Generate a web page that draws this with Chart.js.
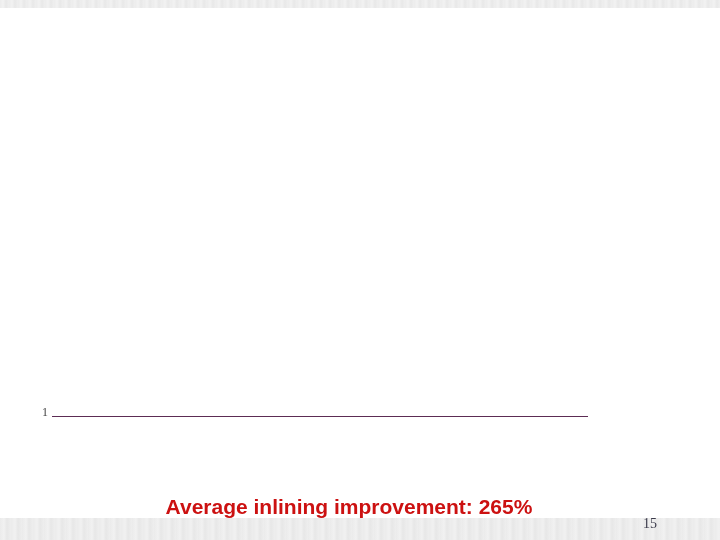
<!DOCTYPE html>
<html>
<head>
<meta charset="utf-8">
<script src="https://cdn.jsdelivr.net/npm/chart.js@4.4.0/dist/chart.umd.min.js"></script>
<style>
  html, body { margin: 0; padding: 0; width: 720px; height: 540px; overflow: hidden; background: #ffffff; }
  #topband { position: absolute; left: 0; top: 0; width: 720px; height: 8px;
    background: repeating-linear-gradient(90deg, #ececec 0px, #f2f2f2 3px, #e8e8e8 6px, #efefef 9px); }
  #botband { position: absolute; left: 0; top: 518px; width: 720px; height: 22px;
    background: repeating-linear-gradient(90deg, #ebebeb 0px, #f1f1f1 4px, #e7e7e7 7px, #eeeeee 11px); }
  #wrap { position: absolute; left: 0; top: 0; width: 720px; height: 540px; }
  #caption { position: absolute; left: 0; width: 698px; top: 495px; text-align: center;
    font-family: "Liberation Sans", Arial, sans-serif; font-weight: bold; font-size: 21px; color: #cc1111; }
  #pageno { position: absolute; left: 643px; top: 516px; font-family: "Liberation Serif", serif;
    font-size: 14px; color: #3a3a4a; }
</style>
</head>
<body>
<div id="topband"></div>
<div id="botband"></div>
<div id="wrap"><canvas id="c" width="720" height="540"></canvas></div>
<div id="caption">Average inlining improvement: 265%</div>
<div id="pageno">15</div>
<script>
// Data (no bars are visible in the reference; only the baseline at 1 remains)
const categories = [''];
const improvement = [null];
const yTicks = [1];

const ctx = document.getElementById('c').getContext('2d');
new Chart(ctx, {
  type: 'bar',
  data: {
    labels: categories,
    datasets: [{ data: improvement, backgroundColor: '#5a2a4a' }]
  },
  options: {
    responsive: false,
    animation: false,
    layout: { padding: { left: 0, right: 133, top: 40, bottom: 0 } },
    plugins: { legend: { display: false }, tooltip: { enabled: false } },
    scales: {
      x: {
        grid: { display: false, drawTicks: false },
        border: { display: true, color: '#5c2c54', width: 1 },
        ticks: { display: false },
        afterFit: (s) => { s.height = 124; }
      },
      y: {
        min: 1, max: 10,
        grid: { display: false, drawTicks: false },
        border: { display: false },
        afterBuildTicks: (s) => { s.ticks = yTicks.map(v => ({ value: v })); },
        ticks: {
          padding: 4,
          labelOffset: -3,
          color: '#444444',
          font: { family: 'Liberation Serif', size: 12 },
          callback: (v) => String(v)
        },
        afterFit: (s) => { s.width = 52; }
      }
    }
  }
});
</script>
</body>
</html>
